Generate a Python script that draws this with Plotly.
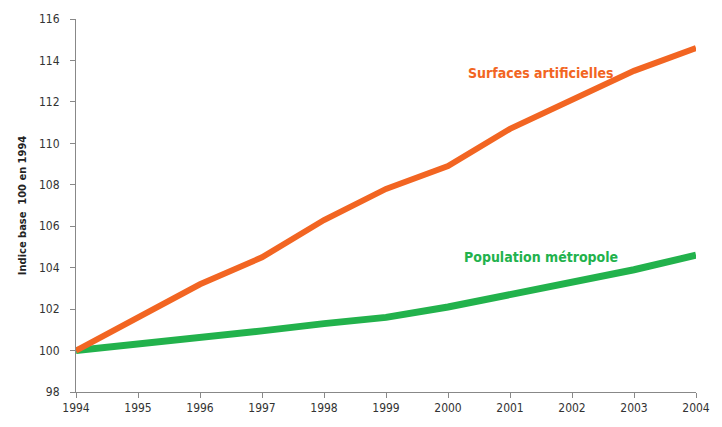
import plotly.graph_objects as go

years = [1994, 1995, 1996, 1997, 1998, 1999, 2000, 2001, 2002, 2003, 2004]
surfaces = [100, 101.6, 103.2, 104.5, 106.3, 107.8, 108.9, 110.7, 112.1, 113.5, 114.6]
population = [100, 100.3, 100.6, 100.95, 101.3, 101.6, 102.1, 102.7, 103.3, 103.9, 104.6]
y_ticks = [98, 100, 102, 104, 106, 108, 110, 112, 114, 116]

orange = "#F26522"
green = "#22B24C"
font_family = "Liberation Sans Narrow, DejaVu Sans Condensed, Arial, sans-serif"

fig = go.Figure()
fig.add_trace(go.Scatter(x=years, y=population, mode="lines",
                         line=dict(color=green, width=7), cliponaxis=False,
                         name="Population métropole", showlegend=False))
fig.add_trace(go.Scatter(x=years, y=surfaces, mode="lines",
                         line=dict(color=orange, width=6), cliponaxis=False,
                         name="Surfaces artificielles", showlegend=False))

fig.add_annotation(x=2001.5, y=113.4, text="<b>Surfaces artificielles</b>", showarrow=False,
                   font=dict(color=orange, size=14, family=font_family), xanchor="center")
fig.add_annotation(x=2001.5, y=104.5, text="<b>Population métropole</b>", showarrow=False,
                   font=dict(color=green, size=14, family=font_family), xanchor="center")

fig.update_layout(
    width=722, height=427,
    margin=dict(l=76, r=17, t=17, b=31),
    paper_bgcolor="white", plot_bgcolor="white",
    font=dict(family=font_family, size=11, color="#333333"),
)
fig.update_xaxes(range=[1994, 2004], tickvals=years, ticktext=[str(y) for y in years],
                 showgrid=False, zeroline=False, showline=True, linecolor="#888888", linewidth=1,
                 ticks="outside", ticklen=5, tickcolor="#888888",
                 tickfont=dict(size=12, color="#333333"))
fig.update_yaxes(range=[98, 116], tickvals=y_ticks,
                 showgrid=False, zeroline=False, showline=True, linecolor="#888888", linewidth=1,
                 ticks="outside", ticklen=5, tickcolor="#888888", ticklabelstandoff=8,
                 tickfont=dict(size=12, color="#333333"),
                 title=dict(text="<b>Indice base  100 en 1994</b>", font=dict(size=11, color="#222222"), standoff=10))

fig.write_html("out.html")
